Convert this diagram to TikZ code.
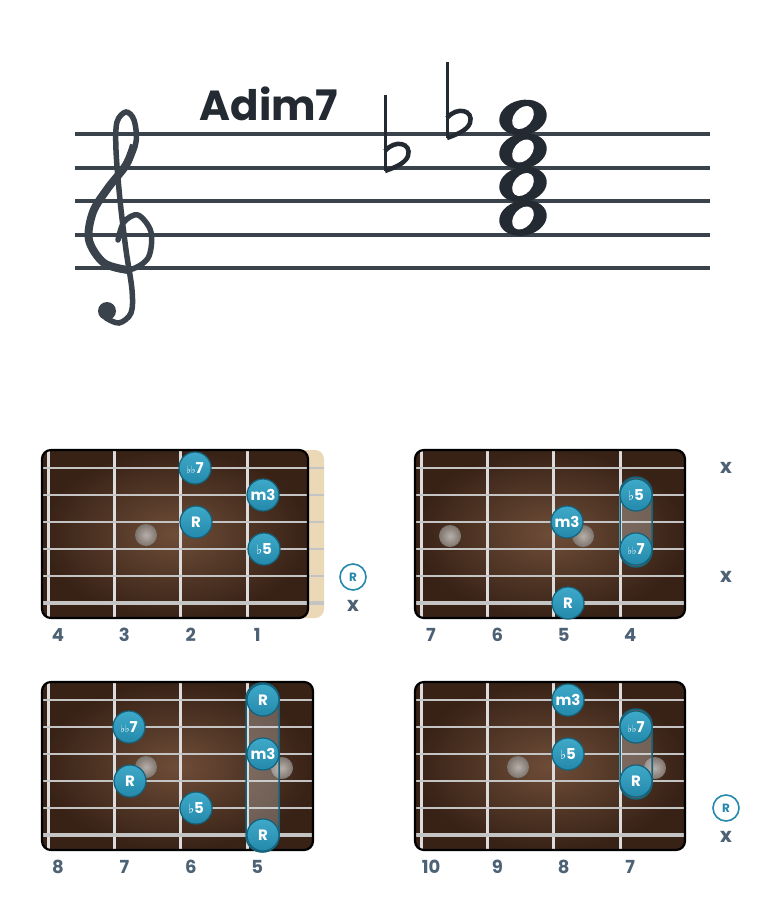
\documentclass[tikz,border=0pt]{standalone}
\usepackage{fontspec}
\setmainfont{Poppins}
\newfontfamily\symfont{DejaVu Sans}
\usetikzlibrary{positioning}

\definecolor{inkdark}{HTML}{232A32}
\definecolor{staffgray}{HTML}{3A424B}
\definecolor{wooddark}{HTML}{382216}
\definecolor{woodlight}{HTML}{6E4D38}
\definecolor{wirewhite}{HTML}{DCDCDC}
\definecolor{stringgray}{HTML}{C4C4C4}
\definecolor{dotblue}{HTML}{2489AB}
\definecolor{dotlight}{HTML}{3FA9C9}
\definecolor{dotedge}{HTML}{14627B}
\definecolor{slate}{HTML}{4E6275}
\definecolor{inlaylight}{HTML}{B7AFA9}
\definecolor{inlaydark}{HTML}{7E746E}
\definecolor{nutcream}{HTML}{EAD8B6}

\tikzset{
    staffline/.style={draw=staffgray, line width=3.5pt},
    clefstroke/.style={draw=staffgray, line width=5.5pt, line cap=round},
    flatstroke/.style={draw=inkdark, line width=3pt},
    chordname/.style={text=inkdark, font=\bfseries\fontsize{42}{42}\selectfont},
    fretwire/.style={draw=wirewhite, line width=3pt},
    guitarstring/.style={draw=stringgray, line width=#1},
    finger/.style={circle, minimum size=32pt, inner sep=0pt, top color=dotlight, bottom color=dotblue,
        draw=dotedge, line width=1.2pt, text=white, font=\bfseries\fontsize{15}{15}\selectfont},
    barre/.style={rounded corners=16pt, fill=white!75!gray, fill opacity=0.3, draw=dotedge, line width=1.5pt},
    inlay/.style={circle, minimum size=22pt, inner sep=0pt, inner color=inlaylight, outer color=inlaydark},
    fretnum/.style={text=slate, font=\bfseries\fontsize{18}{18}\selectfont},
    mutemark/.style={text=slate, font=\bfseries\fontsize{20}{20}\selectfont},
    openmark/.style={circle, minimum size=26pt, inner sep=0pt, draw=dotblue, line width=1.6pt,
        text=dotblue, font=\bfseries\fontsize{12}{12}\selectfont},
}

\newcommand\fl{{\symfont\fontsize{13}{13}\selectfont ♭}}
\newcommand\flsmall{{\symfont\fontsize{10}{10}\selectfont ♭}}
\newcommand\StaffFlat[2]{%
    \draw[flatstroke] (#1,#2-76) -- (#1,#2);
    \draw[flatstroke, line width=4.5pt] (#1,#2-20) .. controls (#1+10,#2-32) and (#1+27,#2-28) .. (#1+23,#2-15)
        .. controls (#1+20,#2-7) and (#1+8,#2-3) .. (#1,#2);
}
\newcommand\WholeNote[2]{%
    \fill[inkdark, rotate around={12:(#1,#2)}] (#1,#2) ellipse [x radius=24, y radius=17.5];
    \fill[white, rotate around={50:(#1,#2)}] (#1,#2) ellipse [x radius=13, y radius=9];
}
\newcommand\FretBoard[4]{% width, string end, fret numbers, prefix
    \shade[rounded corners=9pt, inner color=woodlight, outer color=wooddark] (0,0) rectangle (#1,168);
    \foreach \lab [count=\i from 0] in {#3} {
        \pgfmathsetmacro\fx{6+66.4*\i}
        \draw[fretwire] (\fx,0) -- (\fx,168);
        \node[fretnum] (#4-num\i) at (\fx+10,185) {\lab};
    }
    \foreach \sy/\sw in {18/1.3,45/1.3,72/1.6,99/1.6,126/1.9,153/3.4}
        \draw[guitarstring=\sw pt] (0,\sy) -- (#2,\sy);
    \draw[black, line width=2.2pt, rounded corners=9pt] (0,0) rectangle (#1,168);
}

\begin{document}
\begin{tikzpicture}[x=1pt, y=-1pt]
    \fill[white] (0,0) rectangle (780,916);
    \useasboundingbox (0,0) rectangle (780,916);

    % staff
    \foreach \ly in {134,168,201,235,268}
        \draw[staffline] (75,\ly) -- (710,\ly);
    \node[chordname] (title) at (269,104) {Adim7};
    \draw[clefstroke] plot[smooth, tension=0.55] coordinates {(118,240) (124,222) (138,215) (151,232)
        (148,258) (128,270) (104,263) (89,240) (93,212) (108,188) (126,165) (136,142) (134,120)
        (126,112) (117,122) (116,150) (120,200) (126,250) (132,290) (131,313) (119,323) (106,318)};
    \draw[clefstroke, line width=8pt, line cap=butt] plot[smooth, tension=0.55] coordinates {(128,270)
        (104,263) (89,240) (93,212) (108,188) (126,165) (134,145)};
    \fill[staffgray] (107,311) circle (9);
    \StaffFlat{385}{171}
    \StaffFlat{447}{138}
    \foreach \ny in {218,184.5,151,117.5} {
        \WholeNote{523}{\ny}
    }

    \begin{scope}[shift={(42,450)}] % 1st shape
        \fill[nutcream, rounded corners=9pt] (250,0) rectangle (282,168);
        \FretBoard{266}{282}{4,3,2,1}{A}
        \node[inlay] (A-inlay) at (104,85) {};
        \node[finger] (A-flat7) at (153,18) {\flsmall\flsmall 7};
        \node[finger] (A-min3) at (221,45) {m3};
        \node[finger] (A-root) at (154,72) {R};
        \node[finger] (A-flat5) at (222,99) {\fl 5};
        \node[openmark] (A-open5) at (311,127) {R};
        \node[mutemark] (A-mute6) at (311,156) {x};
    \end{scope}

    \begin{scope}[shift={(415,450)}] % 2nd shape
        \FretBoard{270}{270}{7,6,5,4}{B}
        \node[inlay] (B-inlay1) at (35,86) {};
        \node[inlay] (B-inlay2) at (168,86) {};
        \draw[barre] (205,27) rectangle (237,117);
        \node[finger] (B-flat5) at (221,45) {\fl 5};
        \node[finger] (B-min3) at (152,72) {m3};
        \node[finger] (B-flat7) at (221,99) {\flsmall\flsmall 7};
        \node[finger] (B-root) at (153,153) {R};
        \node[mutemark] (B-mute1) at (311,18) {x};
        \node[mutemark] (B-mute5) at (311,127) {x};
    \end{scope}

    \begin{scope}[shift={(42,682)}] % 3rd shape
        \FretBoard{271}{271}{8,7,6,5}{C}
        \node[inlay] (C-inlay1) at (104,85) {};
        \node[inlay] (C-inlay2) at (240,86) {};
        \draw[barre] (204,1) rectangle (237,170);
        \node[finger] (C-root1) at (221,18) {R};
        \node[finger] (C-flat7) at (87,45) {\flsmall\flsmall 7};
        \node[finger] (C-min3) at (221,72) {m3};
        \node[finger] (C-root4) at (88,99) {R};
        \node[finger] (C-flat5) at (154,126) {\fl 5};
        \node[finger] (C-root6) at (221,153) {R};
    \end{scope}

    \begin{scope}[shift={(415,682)}] % 4th shape
        \FretBoard{270}{270}{10,9,8,7}{D}
        \node[inlay] (D-inlay1) at (103,85) {};
        \node[inlay] (D-inlay2) at (240,86) {};
        \draw[barre] (205,27) rectangle (237,117);
        \node[finger] (D-min3) at (153,18) {m3};
        \node[finger] (D-flat7) at (221,45) {\flsmall\flsmall 7};
        \node[finger] (D-flat5) at (153,72) {\fl 5};
        \node[finger] (D-root) at (221,99) {R};
        \node[openmark] (D-open5) at (311,126) {R};
        \node[mutemark] (D-mute6) at (311,155) {x};
    \end{scope}
\end{tikzpicture}
\end{document}
